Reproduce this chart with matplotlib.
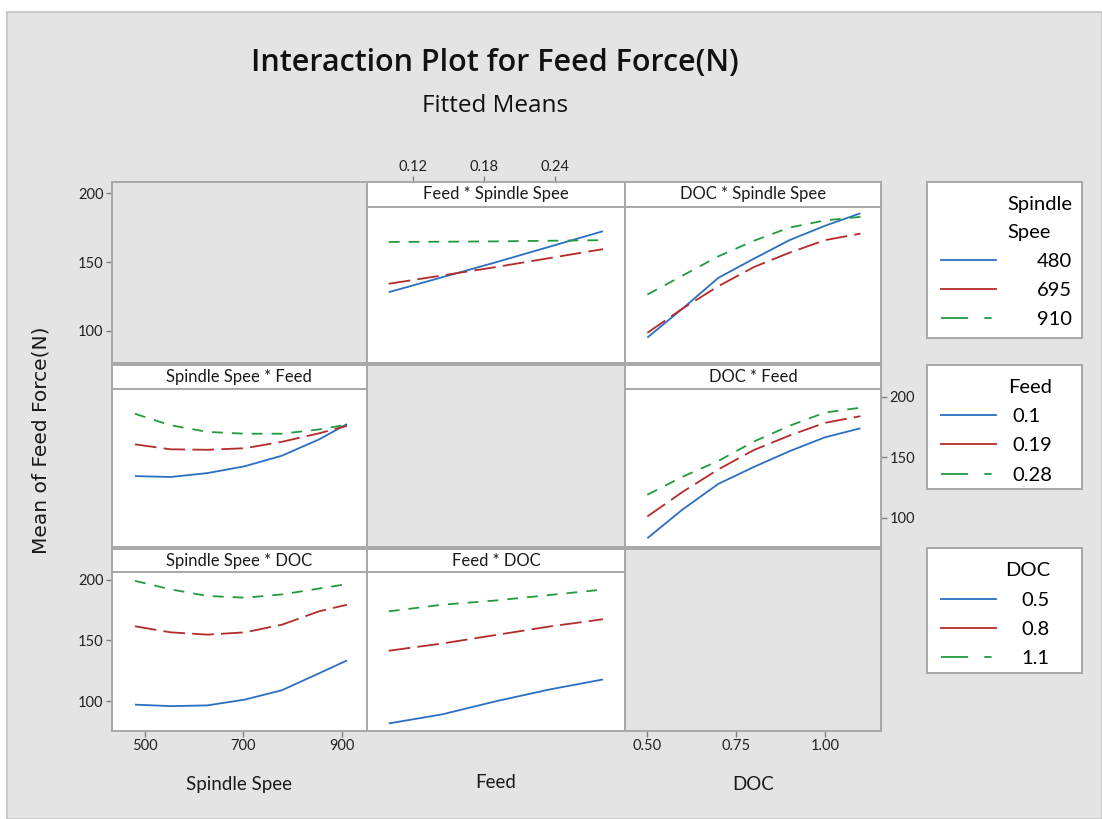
import matplotlib
matplotlib.use("Agg")
import matplotlib.pyplot as plt
from matplotlib import font_manager as fm
from matplotlib.lines import Line2D
from matplotlib.patches import Rectangle

# ---------------- data ----------------
spindle_levels = ["480", "695", "910"]
feed_levels = ["0.1", "0.19", "0.28"]
doc_levels = ["0.5", "0.8", "1.1"]

# Feed * Spindle Spee  (x = Feed, one line per spindle speed)
fs_feed = [0.10, 0.145, 0.19, 0.235, 0.28]
fs_480 = [135.0, 147.5, 160.0, 173.0, 186.0]
fs_695 = [142.0, 149.0, 156.0, 163.5, 171.0]
fs_910 = [177.0, 177.2, 177.5, 178.0, 178.5]

# DOC * Spindle Spee  (x = DOC, one line per spindle speed)
ds_doc = [0.5, 0.6, 0.7, 0.8, 0.9, 1.0, 1.1]
ds_480 = [97.0, 121.5, 147.0, 163.0, 178.5, 190.5, 201.0]
ds_695 = [101.0, 121.5, 140.0, 156.0, 168.0, 178.5, 184.0]
ds_910 = [133.0, 149.0, 165.0, 178.0, 189.0, 195.0, 198.0]

# Spindle Spee * Feed (x = spindle speed, one line per feed)
sf_spindle = [480, 552, 627, 703, 778, 853, 910]
sf_010 = [134.4, 133.7, 136.9, 142.6, 151.3, 164.7, 177.5]
sf_019 = [160.7, 156.6, 156.2, 157.5, 162.8, 169.8, 176.0]
sf_028 = [186.0, 176.5, 171.0, 169.5, 169.5, 173.0, 177.0]

# DOC * Feed (x = DOC, one line per feed)
df_doc = [0.5, 0.6, 0.7, 0.8, 0.9, 1.0, 1.1]
df_010 = [83.0, 107.0, 128.0, 142.0, 155.0, 166.5, 174.0]
df_019 = [101.0, 121.5, 140.0, 156.0, 168.0, 178.5, 184.0]
df_028 = [119.0, 134.0, 147.0, 163.0, 176.0, 187.0, 191.0]

# Spindle Spee * DOC (x = spindle speed, one line per DOC)
sd_spindle = [480, 552, 627, 703, 778, 853, 910]
sd_05 = [97.0, 95.8, 96.4, 101.2, 108.9, 122.8, 133.5]
sd_08 = [161.7, 156.7, 154.8, 156.7, 163.0, 174.0, 179.5]
sd_11 = [199.2, 192.2, 186.7, 185.3, 188.0, 192.8, 196.5]

# Feed * DOC (x = feed, one line per DOC)
fd_feed = [0.10, 0.145, 0.19, 0.235, 0.28]
fd_05 = [81.5, 89.0, 99.8, 109.5, 117.8]
fd_08 = [141.5, 147.5, 154.5, 161.5, 167.5]
fd_11 = [174.0, 179.5, 183.0, 187.5, 192.0]

y_ticks = [100, 150, 200]
spindle_ticks = [500, 700, 900]
feed_ticks = [0.12, 0.18, 0.24]
doc_ticks = [0.50, 0.75, 1.00]

# ---------------- styling ----------------
names = {f.name for f in fm.fontManager.ttflist}
NARROW = "Liberation Sans Narrow" if "Liberation Sans Narrow" in names else "Lato"
MAIN = "Lato"
TITLEF = "Open Sans"

W, H = 1102, 819
BG = "#e4e4e4"
BORDER = "#a8a8a8"
COLORS = ["#2b6fc0", "#b52a2a", "#239a3c"]
LW = 1.3
STYLES = ["-", (0, (12, 4)), (0, (6, 5))]

fig = plt.figure(figsize=(W / 100, H / 100), dpi=100)
fig.patch.set_facecolor("white")
fig.add_artist(Rectangle((7 / W, 0), 1 - 7 / W, 1 - 12 / H, transform=fig.transFigure,
                         facecolor=BG, edgecolor="#c4c4c4", linewidth=1.2, zorder=-10))


def px_ax(x0, y0, x1, y1):
    return fig.add_axes([x0 / W, 1 - y1 / H, (x1 - x0) / W, (y1 - y0) / H])


def plain(ax, face):
    ax.set_facecolor(face)
    ax.set_xticks([])
    ax.set_yticks([])
    for s in ax.spines.values():
        s.set_color(BORDER)
        s.set_linewidth(1.4)


def tickstyle(ax, axis, **kw):
    ax.tick_params(axis=axis, length=4, width=1, color="#808080", pad=2,
                   labelsize=10.5, labelcolor="#222222", **kw)
    labels = ax.get_xticklabels() if axis == "x" else ax.get_yticklabels()
    for t in labels:
        t.set_fontfamily(NARROW)


COLS = [(111.8, 366.7), (366.7, 625.0), (625.0, 881.0)]
ROWS = [(182.3, 206.7, 363.3), (365.0, 389.0, 547.3), (549.3, 572.0, 730.7)]
XLIM = {"spindle": (433, 950), "feed": (0.0815, 0.2985), "doc": (0.437, 1.158)}
YLIM = (75.5, 206.5)


def panel(r, c, title, xkey, x, series):
    top, sb, bot = ROWS[r]
    x0, x1 = COLS[c]
    st = px_ax(x0, top, x1, sb)
    plain(st, "white")
    st.set_xlim(*XLIM[xkey])
    st.text(0.5, 0.5, title, transform=st.transAxes, ha="center", va="center",
            fontsize=12, family=MAIN, color="#1a1a1a")
    ax = px_ax(x0, sb, x1, bot)
    plain(ax, "white")
    ax.set_xlim(*XLIM[xkey])
    ax.set_ylim(*YLIM)
    for y, col, ls in zip(series, COLORS, STYLES):
        ax.plot(x, y, color=col, lw=LW, linestyle=ls, solid_capstyle="butt",
                dash_capstyle="butt")
    return st, ax


def empty(r, c, full=True):
    top, sb, bot = ROWS[r]
    x0, x1 = COLS[c]
    ax = px_ax(x0, top if full else sb, x1, bot)
    plain(ax, BG)
    return ax


# row 0
e00 = empty(0, 0)
e00.set_ylim(76.3, 208)
e00.set_yticks(y_ticks)
e00.set_yticklabels([str(v) for v in y_ticks])
tickstyle(e00, "y")

st01, ax01 = panel(0, 1, "Feed * Spindle Spee", "feed", fs_feed, [fs_480, fs_695, fs_910])
st01.set_xticks(feed_ticks)
st01.set_xticklabels([f"{v:.2f}" for v in feed_ticks])
st01.xaxis.tick_top()
tickstyle(st01, "x")

st02, ax02 = panel(0, 2, "DOC * Spindle Spee", "doc", ds_doc, [ds_480, ds_695, ds_910])

# row 1
st10, ax10 = panel(1, 0, "Spindle Spee * Feed", "spindle", sf_spindle, [sf_010, sf_019, sf_028])
e11 = empty(1, 1)
st12, ax12 = panel(1, 2, "DOC * Feed", "doc", df_doc, [df_010, df_019, df_028])
ax12.set_yticks(y_ticks)
ax12.set_yticklabels([str(v) for v in y_ticks])
ax12.yaxis.tick_right()
tickstyle(ax12, "y")

# row 2
st20, ax20 = panel(2, 0, "Spindle Spee * DOC", "spindle", sd_spindle, [sd_05, sd_08, sd_11])
ax20.set_yticks(y_ticks)
ax20.set_yticklabels([str(v) for v in y_ticks])
tickstyle(ax20, "y")
ax20.set_xticks(spindle_ticks)
ax20.set_xticklabels([str(v) for v in spindle_ticks])
tickstyle(ax20, "x")
ax20.set_xlabel("Spindle Spee", fontsize=13.5, family=MAIN, labelpad=16.5, color="#1a1a1a")

st21, ax21 = panel(2, 1, "Feed * DOC", "feed", fd_feed, [fd_05, fd_08, fd_11])
ax21.set_xlabel("Feed", fontsize=13.5, family=MAIN, labelpad=31, color="#1a1a1a")

e22 = empty(2, 2)
e22.set_xlim(*XLIM["doc"])
e22.set_xticks(doc_ticks)
e22.set_xticklabels([f"{v:.2f}" for v in doc_ticks])
tickstyle(e22, "x")
e22.set_xlabel("DOC", fontsize=13.5, family=MAIN, labelpad=16.5, color="#1a1a1a")

# titles
fig.text(495 / W, 1 - 63 / H, "Interaction Plot for Feed Force(N)", ha="center", va="center",
         fontsize=22, family=TITLEF, fontweight="semibold", color="#111111")
fig.text(495 / W, 1 - 106 / H, "Fitted Means", ha="center", va="center",
         fontsize=17.5, family=TITLEF, color="#111111")
fig.text(41 / W, 1 - 440 / H, "Mean of Feed Force(N)", ha="center", va="center",
         rotation=90, fontsize=14.5, family="DejaVu Sans", color="#1a1a1a")


# legends
def legend_box(y0, y1, title, labels, textpad):
    lax = px_ax(927.3, y0, 1082.3, y1)
    plain(lax, "white")
    handles = [Line2D([], [], color=COLORS[0], lw=LW),
               Line2D([], [], color=COLORS[1], lw=LW),
               Line2D([], [], color=COLORS[2], lw=LW, linestyle=(0, (15, 9, 4, 30)))]
    leg = lax.legend(handles, labels, title=title, loc="upper left", bbox_to_anchor=(0, 1),
                     frameon=False, alignment="right", handlelength=2.73,
                     handletextpad=textpad, borderaxespad=0, borderpad=0.7,
                     labelspacing=0.6, prop={"family": MAIN, "size": 14.5})
    t = leg.get_title()
    t.set_fontfamily(MAIN)
    t.set_fontsize(14.5)
    t.set_linespacing(1.75)
    return lax


legend_box(182.3, 338.3, "Spindle\nSpee", spindle_levels, 2.0)
legend_box(365.0, 489.3, "Feed", feed_levels, 0.8)
legend_box(548.3, 672.7, "DOC", doc_levels, 1.25)

fig.savefig("out.png", dpi=100, facecolor=fig.get_facecolor())
